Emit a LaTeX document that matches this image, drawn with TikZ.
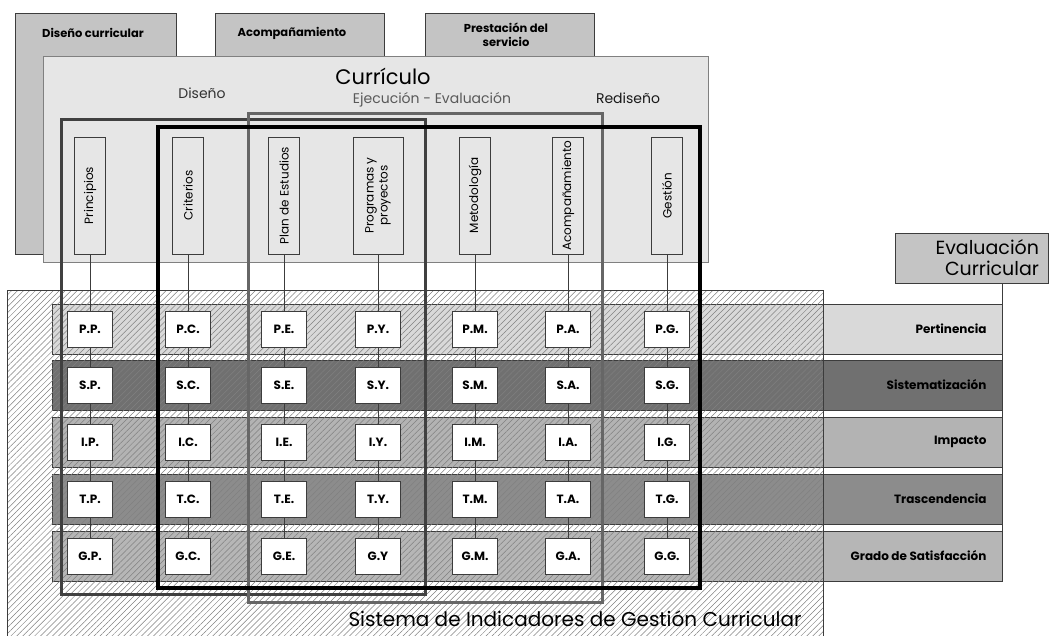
\documentclass[tikz,border=0pt]{standalone}
\usepackage{fontspec}
\setmainfont{Poppins}
\usetikzlibrary{patterns.meta}

\definecolor{tabgray}{HTML}{C4C4C4}
\definecolor{curgray}{HTML}{E6E6E6}
\definecolor{edge}{HTML}{3C3C3C}
\definecolor{rowA}{HTML}{D9D9D9}
\definecolor{rowB}{HTML}{707070}
\definecolor{rowC}{HTML}{B3B3B3}
\definecolor{rowD}{HTML}{8C8C8C}
\definecolor{rowE}{HTML}{B6B6B6}

\tikzset{
	tab/.style={draw=edge, fill=tabgray, line width=0.8},
	tabtext/.style={font=\bfseries\fontsize{11.5}{14}\selectfont, align=center},
	colhead/.style={draw=edge, fill=curgray, line width=0.7, minimum width=31, minimum height=117, inner sep=0, font=\fontsize{12}{13}\selectfont},
	cell/.style={draw=edge, fill=white, line width=0.8, minimum width=45, minimum height=36, inner sep=0, font=\bfseries\fontsize{12}{13}\selectfont},
	band/.style={draw=edge, line width=0.6},
	rowlabel/.style={anchor=east, font=\bfseries\fontsize{12}{14}\selectfont},
	link/.style={draw=edge, line width=0.6},
	frame/.style={line width=3}
}

\begin{document}
\begin{tikzpicture}[x=1pt, y=-1pt]
	\useasboundingbox (0,0) rectangle (1049,635);
	% pestañas de fondo
	\draw[tab] (15,13) rectangle (176,254);
	\draw[tab] (215,13) rectangle (384,70);
	\draw[tab] (425,13) rectangle (594,70);
	\node[tabtext] (tabdis) at (93,33) {Diseño curricular};
	\node[tabtext] (tabaco) at (292,33) {Acompañamiento};
	\node[tabtext] (tabpre) at (506,35) {Prestación del\\servicio};
	% curriculo
	\draw[draw=gray, fill=curgray, line width=0.8] (43,56) rectangle (708,262);
	\node[font=\fontsize{21}{23}\selectfont] (curr) at (383,76) {Currículo};
	\node[font=\fontsize{14}{16}\selectfont, text=black!80] (dis) at (202,93) {Diseño};
	\node[font=\fontsize{14}{16}\selectfont, text=black!65] (ejev) at (432,100) {Ejecución - Evaluación};
	\node[font=\fontsize{14}{16}\selectfont, text=black!90] (redis) at (628,98) {Rediseño};
	\foreach \c/\cx/\txt in {P/90/Principios, C/188/Criterios, E/284/Plan de Estudios, M/475/Metodología, A/568/Acompañamiento, G/667/Gestión}
		\node[colhead] (h\c) at (\cx,195.5) {\rotatebox{90}{\txt}};
	\node[colhead, minimum width=50] (hY) at (378,195.5) {\rotatebox{90}{\begin{tabular}{@{}c@{}}Programas y\\[1pt]proyectos\end{tabular}}};
	% bandas
	\foreach \r/\ry/\col/\txt in {P/329/rowA/Pertinencia, S/385/rowB/Sistematización, I/442/rowC/Impacto, T/499/rowD/Trascendencia, G/556/rowE/Grado de Satisfacción}{
		\draw[band, fill=\col] (52,\ry-25) rectangle (1002,\ry+25);
		\node[rowlabel] (lab\r) at (990,\ry) {\txt};
	}
	\draw[draw=edge, line width=0.6, pattern={Lines[angle=45,distance=4.2pt,line width=0.5pt]}, pattern color=gray] (7,290) rectangle (823,636);
	% marcos
	\draw[frame, draw=black!75] (61,119) rectangle (425,594);
	\draw[frame, draw=black!60] (248,113) rectangle (602,602);
	\draw[frame, draw=black, line width=3.5] (158,127) rectangle (700,588);
	% indicadores
	\def\GYname{GY}
	\foreach \r/\ry in {P/329, S/385, I/442, T/499, G/556}
		\foreach \c/\cx in {P/90, C/188, E/284, Y/378, M/475, A/568, G/667}{
			\edef\cellname{\r\c}
			\ifx\cellname\GYname\def\celltext{\r.\c}\else\def\celltext{\r.\c.}\fi
			\node[cell] (\r\c) at (\cx,\ry) {\celltext};
		}
	\foreach \c in {P,C,E,Y,M,A,G}{
		\draw[link] (h\c) -- (P\c);
		\draw[link] (P\c) -- (S\c);
		\draw[link] (S\c) -- (I\c);
		\draw[link] (I\c) -- (T\c);
		\draw[link] (T\c) -- (G\c);
	}
	% evaluacion curricular
	\node[draw=edge, fill=tabgray, line width=0.8, minimum width=153, minimum height=50, inner xsep=0, text width=135, align=right, font=\fontsize{19}{21}\selectfont] (evalcur) at (971.5,258) {Evaluación\\Curricular};
	\coordinate (evalfoot) at (1002,580);
	\draw[link] (evalcur.south -| evalfoot) -- (evalfoot);
	\node[font=\fontsize{20}{22}\selectfont] (sigc) at (575,619) {Sistema de Indicadores de Gestión Curricular};
\end{tikzpicture}
\end{document}
